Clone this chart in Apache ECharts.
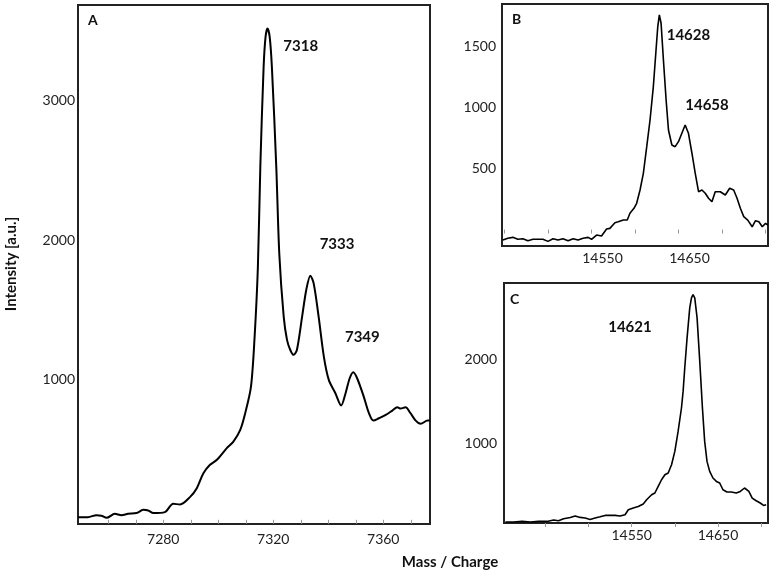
<!DOCTYPE html>
<html>
<head>
<meta charset="utf-8">
<script src="https://cdn.jsdelivr.net/npm/echarts@6/dist/echarts.min.js"></script>
<style>
  html, body { margin: 0; padding: 0; background: #fff; }
  #chart { width: 773px; height: 574px; }
</style>
</head>
<body>
<div id="chart"></div>
<script>
// panel A: 7 kDa region
var massA = [7249, 7252.6, 7255.7, 7257.5, 7259.4, 7262.4, 7264.8, 7267.2, 7270.3, 7272.7, 7274.5, 7276.4,
  7280.6, 7283.6, 7286.1, 7289.7, 7292.2, 7294.6, 7297, 7299.5, 7303.1, 7305.5, 7308, 7309.8, 7311.9,
  7313.2, 7314.4, 7315.3, 7316.5, 7317.2, 7317.9, 7318.7, 7319.5, 7321.1, 7322.2, 7323.8, 7325, 7326.2,
  7327.4, 7328.6, 7330.5, 7332, 7333.5, 7334.7, 7336.5, 7338.4, 7340.2, 7342.6, 7344.7, 7346.3, 7347.8,
  7349.1, 7350.5, 7352.9, 7354.8, 7356.4, 7358.4, 7360.9, 7363.3, 7365.1, 7366.3, 7368.1, 7369.9,
  7371.8, 7373.6, 7376.1, 7377];
var intensityA = [19, 19, 33, 29, 14, 43, 33, 43, 48, 71, 67, 48,
  55, 114, 110, 162, 226, 333, 393, 429, 512, 559, 643, 762, 952,
  1300, 1800, 2524, 3238, 3452, 3512, 3452, 3238, 2524, 1900, 1452, 1286, 1214,
  1179, 1214, 1452, 1643, 1745, 1690, 1452, 1167, 1000, 905, 817, 905, 1012,
  1055, 1012, 881, 762, 709, 726, 750, 781, 805, 795, 805, 762,
  709, 686, 709, 709];

// panel B: 14.6 kDa region
var massB = [14448, 14453.7, 14459.5, 14465.2, 14471, 14476.8, 14482.6, 14488.3, 14494.1, 14499.9, 14505.7,
  14511.4, 14517.2, 14523, 14528.8, 14534.5, 14540.3, 14546.1, 14550, 14555.8, 14561.5, 14567.3, 14571.1,
  14576.9, 14580.7, 14586.5, 14591.1, 14594.2, 14598.8, 14601.9, 14605.8, 14609.6, 14613.5, 14617.3,
  14621.1, 14624.2, 14626.2, 14628, 14630, 14632.7, 14635.8, 14638.5, 14642.4, 14646.2, 14650, 14653.9,
  14657.7, 14661.5, 14665.5, 14669.3, 14673.1, 14677, 14680.8, 14684.6, 14688.5, 14692.3, 14698.1,
  14703.9, 14708.9, 14713.5, 14717.4, 14721.2, 14725.1, 14729.7, 14734.8, 14738.6, 14742.5, 14746.4,
  14750.2, 14752.9];
var intensityB = [-86, -72, -64, -80, -75, -92, -80, -80, -80, -97, -75,
  -86, -75, -92, -75, -86, -72, -64, -80, -45, -53, 4, 10,
  56, 64, 78, 78, 134, 175, 216, 325, 462, 681, 900,
  1174, 1475, 1667, 1763, 1695, 1393, 1064, 818, 695, 681, 722, 791,
  859, 791, 627, 462, 311, 325, 298, 257, 229, 311, 311,
  284, 339, 325, 257, 175, 106, 78, 23, 73, 64, 23,
  51, 37];

// panel C: 14.6 kDa region, second sample
var massC = [14403.7, 14413.3, 14423, 14432.6, 14442.2, 14451.8, 14459.5, 14465.2, 14471, 14478.8, 14484.5,
  14490.3, 14496.1, 14501.8, 14507.6, 14513.4, 14519.2, 14525, 14530.8, 14536.5, 14542.3, 14546.1,
  14551.8, 14557.6, 14563.4, 14567.3, 14573.1, 14576.9, 14580.7, 14584.6, 14588.5, 14592.3, 14596.2,
  14600, 14603.8, 14607.7, 14609.6, 14611.5, 14614.2, 14617.3, 14619.3, 14621.1, 14623.1, 14625.8,
  14628.9, 14632, 14634.6, 14637.3, 14640.4, 14644.2, 14648.2, 14652, 14655.8, 14660.4, 14665.5,
  14671.2, 14675.9, 14680.8, 14682.8, 14685.8, 14689.7, 14694.3, 14699, 14702.8, 14705.9];
var intensityC = [52, 52, 59, 52, 59, 59, 76, 67, 91, 107, 124,
  107, 100, 83, 100, 115, 131, 131, 131, 124, 139, 199,
  220, 239, 268, 319, 379, 400, 479, 559, 619, 640, 739,
  899, 1139, 1420, 1619, 1900, 2261, 2621, 2741, 2780, 2741, 2501,
  1980, 1420, 1019, 779, 659, 580, 539, 520, 439, 412, 412,
  400, 419, 460, 479, 419, 339, 307, 280, 251, 259];

// axis labels / ticks
var xLabelsA = [7280, 7320, 7360];
var xTicksA = [7260, 7270, 7280, 7290, 7300, 7310, 7320, 7330, 7340, 7350, 7360, 7370];
var yLabelsA = [1000, 2000, 3000];
var xLabelsBC = [14550, 14650];
var xTicksB = [14450, 14500, 14550, 14600, 14650, 14700, 14750];
var xTicksC = [14400, 14450, 14500, 14550, 14600, 14650, 14700];
var yLabelsB = [500, 1000, 1500];
var yLabelsC = [1000, 2000];

// peak annotations [text, mass, intensity]
var peaksA = [['7318', 7330, 3386], ['7333', 7343.2, 1969], ['7349', 7352.4, 1305]];
var peaksB = [['14628', 14661.5, 1599], ['14658', 14682.8, 1023]];
var peaksC = [['14621', 14548, 2388]];

var FONT = 'Lato, "Open Sans", sans-serif';
var chart = echarts.init(document.getElementById('chart'));

function toPairs(xs, ys) {
  return xs.map(function (x, i) { return [x, ys[i]]; });
}

function plain(v) {
  return String(v);
}

function xAxisFor(idx, min, max, ticks, margin, pad) {
  return {
    type: 'value', gridIndex: idx, min: min, max: max,
    splitLine: { show: false },
    axisLine: { show: false },
    axisTick: { show: true, length: 4, customValues: ticks, lineStyle: { color: '#999' } },
    axisLabel: {
      customValues: idx === 0 ? xLabelsA : xLabelsBC,
      formatter: plain,
      fontFamily: FONT, fontSize: 14, color: '#222', margin: margin,
      padding: pad || 0
    }
  };
}

function yAxisFor(idx, min, max, labels, margin) {
  return {
    type: 'value', gridIndex: idx, min: min, max: max,
    splitLine: { show: false },
    axisLine: { show: false },
    axisTick: { show: false },
    axisLabel: { customValues: labels, formatter: plain, fontFamily: FONT, fontSize: 14, color: '#222', margin: margin }
  };
}

function peakMarks(peaks) {
  return {
    symbol: 'circle', symbolSize: 1,
    itemStyle: { color: 'rgba(0,0,0,0)' },
    label: { show: true, position: 'inside', formatter: '{b}', fontFamily: FONT, fontWeight: 'bold', fontSize: 15, color: '#111' },
    data: peaks.map(function (p) { return { name: p[0], coord: [p[1], p[2]] }; })
  };
}

function lineSeries(idx, xs, ys, peaks, width, smooth) {
  return {
    type: 'line', xAxisIndex: idx, yAxisIndex: idx,
    data: toPairs(xs, ys),
    showSymbol: false, smooth: smooth,
    lineStyle: { color: '#000', width: width },
    markPoint: peakMarks(peaks),
    silent: true, animation: false
  };
}

var gridStyle = { show: true, borderColor: '#222', borderWidth: 2, backgroundColor: '#fff' };

var option = {
  backgroundColor: '#fff',
  animation: false,
  grid: [
    Object.assign({ left: 78, top: 5, width: 352, height: 519 }, gridStyle),
    Object.assign({ left: 502, top: 4, width: 266, height: 242 }, gridStyle),
    Object.assign({ left: 504, top: 283, width: 264, height: 240 }, gridStyle)
  ],
  xAxis: [
    xAxisFor(0, 7249, 7377, xTicksA, 8),
    xAxisFor(1, 14447, 14753, xTicksB, 5, [0, 0, 0, 22]),
    xAxisFor(2, 14402, 14708, xTicksC, 5)
  ],
  yAxis: [
    yAxisFor(0, -30, 3680, yLabelsA, 3),
    yAxisFor(1, -135, 1853, yLabelsB, 6),
    yAxisFor(2, 40, 2920, yLabelsC, 7)
  ],
  series: [
    lineSeries(0, massA, intensityA, peaksA, 2, 0.3),
    lineSeries(1, massB, intensityB, peaksB, 1.6, false),
    lineSeries(2, massC, intensityC, peaksC, 1.6, false)
  ],
  graphic: [
    { type: 'text', left: 88, top: 13, style: { text: 'A', font: 'bold 14px ' + FONT, fill: '#111' } },
    { type: 'text', left: 512, top: 12, style: { text: 'B', font: 'bold 14px ' + FONT, fill: '#111' } },
    { type: 'text', left: 510, top: 292, style: { text: 'C', font: 'bold 14px ' + FONT, fill: '#111' } },
    { type: 'text', x: 450, y: 562, style: { text: 'Mass / Charge', font: 'bold 15px ' + FONT, fill: '#111', align: 'center', verticalAlign: 'middle' } },
    { type: 'text', x: 11, y: 264, rotation: Math.PI / 2, style: { text: 'Intensity [a.u.]', font: 'bold 15px ' + FONT, fill: '#111', align: 'center', verticalAlign: 'middle' } }
  ]
};

chart.setOption(option);
</script>
</body>
</html>
